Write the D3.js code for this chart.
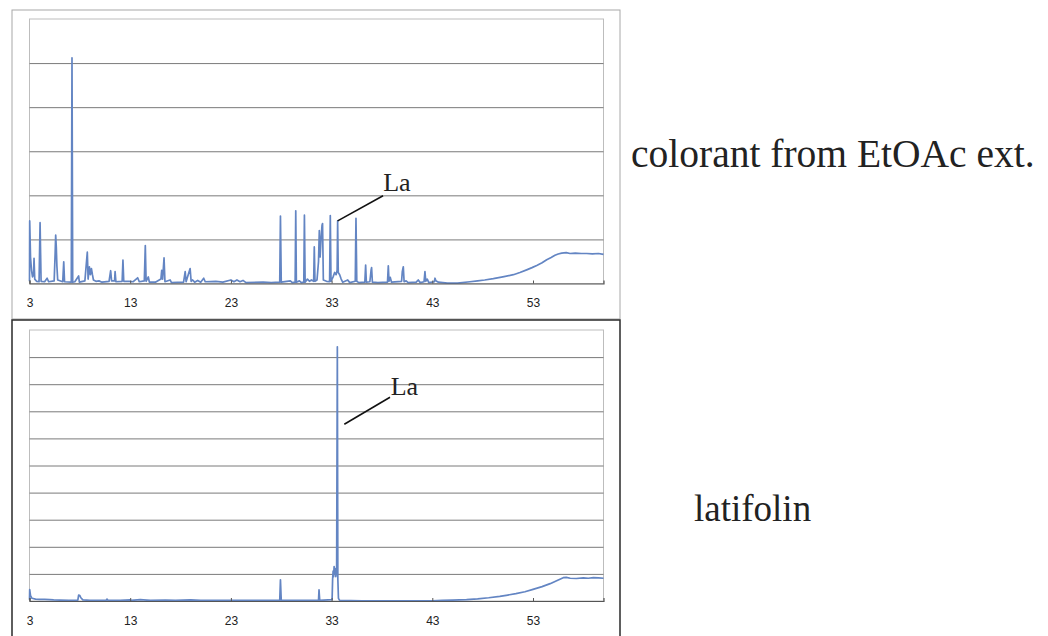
<!DOCTYPE html>
<html>
<head>
<meta charset="utf-8">
<script src="https://cdn.jsdelivr.net/npm/d3@7"></script>
<style>
  html, body { margin: 0; padding: 0; background: #fff; }
  svg { display: block; }
</style>
</head>
<body>
<svg id="chart" width="1048" height="636"></svg>
<script>
// Retention-time axis (min)
const timeDomain = [3, 60];
const timeTicks = [3, 13, 23, 33, 43, 53];

// HPLC trace of the EtOAc extract colorant: [retention time, absorbance (grid units)]
const extractTrace = [
  [3.0,0.05],[3.02,1.42],[3.1,0.6],[3.2,0.3],[3.3,0.15],[3.4,0.2],[3.45,0.57],[3.52,0.1],
  [3.7,0.05],[3.95,0.04],[4.05,1.38],[4.15,0.05],[4.5,0.04],[4.75,0.12],[4.9,0.04],
  [5.45,0.06],[5.55,0.7],[5.6,1.1],[5.66,0.83],[5.72,0.4],[5.8,0.08],[6.3,0.04],[6.4,0.49],
  [6.48,0.04],[7.15,0.03],[7.22,5.12],[7.29,0.03],[7.5,0.04],[7.88,0.17],[7.95,0.03],
  [8.5,0.06],[8.74,0.71],[8.82,0.1],[8.95,0.38],[9.05,0.2],[9.15,0.34],[9.25,0.2],[9.35,0.08],
  [9.6,0.05],[9.9,0.06],[10.2,0.03],[10.9,0.05],[11.06,0.29],[11.15,0.06],[11.45,0.06],
  [11.5,0.27],[11.58,0.04],[12.2,0.05],[12.28,0.53],[12.36,0.05],[12.9,0.05],[13.3,0.04],
  [13.74,0.13],[13.9,0.04],[14.4,0.06],[14.5,0.86],[14.58,0.05],[14.8,0.15],[14.9,0.03],
  [15.5,0.03],[16.05,0.1],[16.13,0.3],[16.22,0.1],[16.36,0.58],[16.45,0.04],[16.96,0.08],
  [17.1,0.02],[18.3,0.03],[18.46,0.27],[18.55,0.04],[18.95,0.34],[19.05,0.05],[19.2,0.08],
  [19.4,0.03],[19.7,0.07],[20.0,0.03],[20.3,0.12],[20.45,0.04],[21.5,0.05],[22.2,0.03],
  [23.0,0.08],[23.3,0.04],[23.6,0.08],[23.9,0.04],[24.2,0.07],[24.5,0.02],[26.2,0.03],
  [27.0,0.02],[27.85,0.03],[27.92,1.53],[28.0,0.03],[28.9,0.06],[29.1,0.02],[29.38,0.03],
  [29.44,1.65],[29.5,0.03],[29.8,0.06],[30.0,0.02],[30.24,0.03],[30.3,1.55],[30.37,0.03],
  [30.6,0.1],[30.8,0.05],[31.0,0.08],[31.22,0.05],[31.28,0.83],[31.35,0.05],[31.55,0.08],
  [31.7,0.5],[31.78,1.2],[31.86,0.6],[31.95,1.0],[32.05,1.32],[32.1,1.36],[32.18,0.08],
  [32.5,0.05],[32.8,0.04],[32.87,1.54],[32.94,0.05],[33.15,0.15],[33.3,0.25],[33.45,0.2],
  [33.55,0.3],[33.6,1.42],[33.66,0.25],[33.8,0.2],[33.95,0.1],[34.1,0.03],[34.6,0.08],
  [34.8,0.02],[35.35,0.05],[35.42,1.48],[35.5,0.05],[35.7,0.02],[36.3,0.03],[36.38,0.42],
  [36.45,0.03],[36.8,0.04],[36.92,0.3],[36.97,0.36],[37.05,0.03],[37.6,0.02],[38.55,0.03],
  [38.63,0.4],[38.7,0.05],[38.82,0.14],[38.95,0.03],[39.95,0.05],[40.02,0.27],[40.12,0.38],
  [40.2,0.04],[40.4,0.06],[40.6,0.02],[41.4,0.03],[41.6,0.08],[41.8,0.02],[42.18,0.04],
  [42.27,0.27],[42.35,0.05],[42.5,0.1],[42.65,0.02],[43.2,0.04],[43.27,0.12],[43.35,0.06],
  [43.6,0.03],[44.5,0.01],[45.5,0.01],[46.74,0.04],[47.5,0.06],[48.2,0.08],[49.06,0.11],
  [50.0,0.15],[51.05,0.2],[51.7,0.25],[52.37,0.31],[52.9,0.36],[53.37,0.41],[53.9,0.47],
  [54.36,0.54],[54.8,0.59],[55.18,0.64],[55.5,0.67],[55.85,0.69],[56.3,0.7],[56.67,0.68],
  [57.2,0.69],[57.8,0.68],[58.33,0.68],[58.9,0.67],[59.5,0.68],[60.0,0.66]
];

// HPLC trace of the latifolin standard
const latifolinTrace = [
  [3.0,0.05],[3.02,0.42],[3.1,0.2],[3.25,0.1],[3.6,0.07],[4.0,0.06],[4.5,0.06],[5.0,0.05],
  [5.4,0.04],[6.0,0.03],[6.9,0.02],[7.8,0.03],[7.88,0.22],[8.0,0.2],[8.1,0.12],[8.3,0.04],
  [9.0,0.02],[10.6,0.02],[10.7,0.07],[10.8,0.02],[12.0,0.02],[13.0,0.04],[13.1,0.02],
  [14.0,0.05],[14.3,0.04],[15.0,0.02],[16.5,0.03],[17.5,0.02],[19.0,0.04],[20.0,0.02],
  [23.0,0.02],[27.85,0.02],[27.92,0.78],[28.0,0.02],[31.7,0.02],[31.75,0.41],[31.82,0.02],
  [33.05,0.05],[33.1,0.8],[33.15,1.1],[33.2,0.9],[33.25,1.27],[33.3,1.0],[33.35,1.2],
  [33.42,0.9],[33.5,1.1],[33.57,9.38],[33.62,0.8],[33.68,0.1],[33.8,0.02],[36.0,0.01],
  [43.0,0.01],[44.0,0.02],[45.0,0.03],[46.4,0.05],[47.5,0.08],[48.6,0.12],[49.7,0.17],
  [50.5,0.22],[51.3,0.27],[52.2,0.34],[53.0,0.43],[53.9,0.53],[54.7,0.64],[55.4,0.76],
  [56.0,0.86],[56.3,0.87],[56.7,0.84],[57.3,0.83],[58.0,0.85],[58.5,0.84],[59.0,0.86],
  [59.5,0.85],[60.0,0.84]
];

const svg = d3.select("#chart");
svg.append("rect").attr("width", 1048).attr("height", 636).attr("fill", "#fff");

const lineColor = "#6385c3";

function drawPanel(opts) {
  const { frame, plot, yMax, gridStep, trace, frameStroke, frameWidth } = opts;
  const g = svg.append("g");

  // outer chart frame
  g.append("rect")
    .attr("x", frame.x).attr("y", frame.y)
    .attr("width", frame.w).attr("height", frame.h)
    .attr("fill", "none").attr("stroke", frameStroke).attr("stroke-width", frameWidth);

  const x = d3.scaleLinear().domain(timeDomain).range([plot.x, plot.x + plot.w]);
  const y = d3.scaleLinear().domain([0, yMax]).range([plot.y + plot.h, plot.y]);

  // plot area border
  g.append("rect")
    .attr("x", plot.x).attr("y", plot.y)
    .attr("width", plot.w).attr("height", plot.h)
    .attr("fill", "none").attr("stroke", "#bdbdbd").attr("stroke-width", 1);

  // horizontal gridlines
  const gridVals = d3.range(gridStep, yMax, gridStep);
  const grid = g.append("g")
    .attr("transform", `translate(${plot.x},0)`)
    .call(d3.axisLeft(y).tickValues(gridVals).tickSize(-plot.w).tickFormat(""));
  grid.select(".domain").remove();
  grid.selectAll(".tick line").attr("stroke", "#7a7a7a").attr("stroke-width", 1);

  // trace
  const line = d3.line().x(d => x(d[0])).y(d => y(d[1]));
  g.append("path")
    .datum(trace)
    .attr("fill", "none")
    .attr("stroke", lineColor)
    .attr("stroke-width", 1.7)
    .attr("stroke-linejoin", "round")
    .attr("d", line);

  // time axis with inward ticks
  const axis = g.append("g")
    .attr("transform", `translate(0,${plot.y + plot.h})`)
    .call(d3.axisBottom(x).tickValues(timeTicks).tickSize(-3).tickPadding(15));
  axis.select(".domain").attr("stroke", "#555").attr("stroke-width", 1.2);
  axis.selectAll(".tick line").attr("stroke", "#555");
  axis.selectAll(".tick text")
    .attr("fill", "#222")
    .style("font-family", "'Liberation Sans', Arial, sans-serif")
    .style("font-size", "12px");

  return { x, y };
}

const extractPanel = drawPanel({
  frame: { x: 12, y: 10, w: 608, h: 309 },
  plot: { x: 29.5, y: 19, w: 574, h: 264.5 },
  yMax: 6, gridStep: 1,
  trace: extractTrace,
  frameStroke: "#a8a8a8", frameWidth: 1
});

const standardPanel = drawPanel({
  frame: { x: 12, y: 320, w: 608, h: 330 },
  plot: { x: 29.5, y: 330, w: 574, h: 271 },
  yMax: 10, gridStep: 1,
  trace: latifolinTrace,
  frameStroke: "#2a2a2a", frameWidth: 1.5
});

// "La" (latifolin) peak annotations
const serif = "'Liberation Serif', 'Times New Roman', serif";
function annotate(sc, t, v, dx, dy, tx, ty) {
  const px = sc.x(t), py = sc.y(v);
  svg.append("line")
    .attr("x1", px + dx).attr("y1", py + dy)
    .attr("x2", px).attr("y2", py)
    .attr("stroke", "#111").attr("stroke-width", 1.6);
  svg.append("text")
    .attr("x", px + tx).attr("y", py + ty)
    .style("font-family", serif).style("font-size", "26px")
    .attr("fill", "#222")
    .text("La");
}
annotate(extractPanel, 33.6, 1.42, 45.4, -25.2, 45.6, -30);
annotate(standardPanel, 34.26, 6.52, 45.7, -27, 46.4, -29.3);

// sample captions
svg.append("text")
  .attr("x", 631).attr("y", 167)
  .style("font-family", serif).style("font-size", "39.5px")
  .attr("fill", "#222")
  .text("colorant from EtOAc ext.");

svg.append("text")
  .attr("x", 694).attr("y", 521)
  .style("font-family", serif).style("font-size", "37px")
  .attr("fill", "#222")
  .text("latifolin");
</script>
</body>
</html>
